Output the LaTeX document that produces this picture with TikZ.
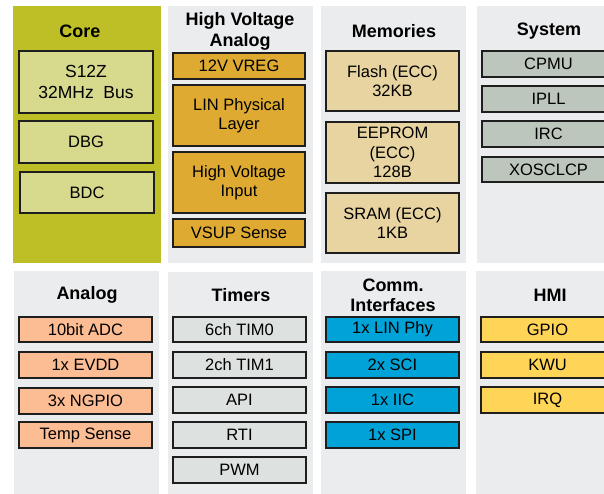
\documentclass[tikz,border=0pt]{standalone}
\usepackage{fontspec}
\setmainfont{Liberation Sans}
\definecolor{corepanel}{RGB}{190,191,38}
\definecolor{coreinner}{RGB}{215,217,140}
\definecolor{panelgray}{RGB}{235,236,238}
\definecolor{hvbox}{RGB}{222,170,50}
\definecolor{membox}{RGB}{231,212,160}
\definecolor{sysbox}{RGB}{189,198,189}
\definecolor{anabox}{RGB}{253,189,148}
\definecolor{timbox}{RGB}{221,225,223}
\definecolor{combox}{RGB}{0,163,216}
\definecolor{hmibox}{RGB}{255,213,87}
\definecolor{edgecol}{RGB}{30,30,30}
\tikzset{
  panel/.style={inner sep=0pt, draw=none},
  blk/.style={inner sep=0pt, draw=edgecol, line width=1.6pt, align=center,
    font=\fontsize{16.5}{19.5}\selectfont},
  ttl/.style={align=center, inner sep=0pt, font=\bfseries\fontsize{18}{21.5}\selectfont}
}
% name, x1, y1, x2, y2, style, text
\newcommand\mkbox[7]{%
  \pgfmathsetmacro\bw{#4-#2}\pgfmathsetmacro\bh{#5-#3}%
  \pgfmathsetmacro\bx{(#2+#4)/2}\pgfmathsetmacro\by{(#3+#5)/2}%
  \node[#6, minimum width=\bw pt, minimum height=\bh pt] (#1) at (\bx,\by) {#7};}
\begin{document}
\begin{tikzpicture}[x=1pt,y=-1pt]
\useasboundingbox (0,0) rectangle (604,493);
\fill[white] (0,0) rectangle (604,493);
\clip (0,0) rectangle (604,493);
% panels
\mkbox{pcore}{13}{6}{161}{263}{panel,fill=corepanel}{}
\mkbox{phva}{168}{6}{313}{263}{panel,fill=panelgray}{}
\mkbox{pmem}{321}{6}{466}{263}{panel,fill=panelgray}{}
\mkbox{psys}{477}{6}{622}{263}{panel,fill=panelgray}{}
\mkbox{pana}{14}{271}{159}{500}{panel,fill=panelgray}{}
\mkbox{ptim}{168}{272}{313}{500}{panel,fill=panelgray}{}
\mkbox{pcom}{321}{271}{466}{500}{panel,fill=panelgray}{}
\mkbox{phmi}{476}{271}{621}{500}{panel,fill=panelgray}{}
% titles
\node[ttl] (tcore) at (80,31) {Core};
\node[ttl] (thva) at (240,31.5) {High Voltage\\Analog};
\node[ttl] (tmem) at (394,31) {Memories};
\node[ttl] (tsys) at (549,31) {System};
\node[ttl] (tana) at (87,295) {Analog};
\node[ttl] (ttim) at (241,295) {Timers};
\node[ttl, font=\bfseries\fontsize{18}{20}\selectfont] (tcom) at (393,295) {Comm.\\Interfaces};
\node[ttl] (thmi) at (550,295) {HMI};
% core
\mkbox{s12z}{19}{51}{153}{113}{blk,fill=coreinner,font=\fontsize{17.5}{21}\selectfont}{S12Z\\32MHz~~Bus}
\mkbox{dbg}{19}{121}{153}{163}{blk,fill=coreinner}{DBG}
\mkbox{bdc}{20}{172}{154}{213}{blk,fill=coreinner}{BDC}
% high voltage analog
\mkbox{vreg}{173}{53}{305}{79}{blk,fill=hvbox}{12V VREG}
\mkbox{lin}{173}{85}{305}{146}{blk,fill=hvbox}{LIN Physical\\Layer}
\mkbox{hvi}{173}{152}{305}{213}{blk,fill=hvbox}{High Voltage\\Input}
\mkbox{vsup}{173}{219}{305}{247}{blk,fill=hvbox}{VSUP Sense}
% memories
\mkbox{flash}{326}{51}{459}{111}{blk,fill=membox}{Flash (ECC)\\32KB}
\mkbox{eeprom}{326}{122}{459}{183}{blk,fill=membox}{EEPROM\\(ECC)\\128B}
\mkbox{sram}{326}{193}{459}{253}{blk,fill=membox}{SRAM (ECC)\\1KB}
% system
\mkbox{cpmu}{482}{51}{615}{77}{blk,fill=sysbox}{CPMU}
\mkbox{ipll}{482}{86}{615}{112}{blk,fill=sysbox}{IPLL}
\mkbox{irc}{482}{121}{615}{147}{blk,fill=sysbox}{IRC}
\mkbox{xosc}{482}{157}{615}{182}{blk,fill=sysbox}{XOSCLCP}
% analog
\mkbox{adc}{19}{317}{152}{342}{blk,fill=anabox}{10bit ADC}
\mkbox{evdd}{19}{352}{152}{378}{blk,fill=anabox}{1x EVDD}
\mkbox{ngpio}{19}{388}{152}{414}{blk,fill=anabox}{3x NGPIO}
\mkbox{temp}{19}{422}{152}{448}{blk,fill=anabox}{Temp Sense}
% timers
\mkbox{tim0}{173}{317}{306}{342}{blk,fill=timbox}{6ch TIM0}
\mkbox{tim1}{173}{352}{306}{378}{blk,fill=timbox}{2ch TIM1}
\mkbox{api}{173}{387}{306}{413}{blk,fill=timbox}{API}
\mkbox{rti}{173}{422}{306}{448}{blk,fill=timbox}{RTI}
\mkbox{pwm}{173}{457}{306}{483}{blk,fill=timbox}{PWM}
% comm
\mkbox{linphy}{326}{317}{459}{342}{blk,fill=combox}{1x LIN Phy}
\mkbox{sci}{326}{352}{459}{378}{blk,fill=combox}{2x SCI}
\mkbox{iic}{326}{387}{459}{413}{blk,fill=combox}{1x IIC}
\mkbox{spi}{326}{422}{459}{448}{blk,fill=combox}{1x SPI}
% hmi
\mkbox{gpio}{481}{317}{614}{342}{blk,fill=hmibox}{GPIO}
\mkbox{kwu}{481}{352}{614}{378}{blk,fill=hmibox}{KWU}
\mkbox{irq}{481}{387}{614}{413}{blk,fill=hmibox}{IRQ}
\end{tikzpicture}
\end{document}
